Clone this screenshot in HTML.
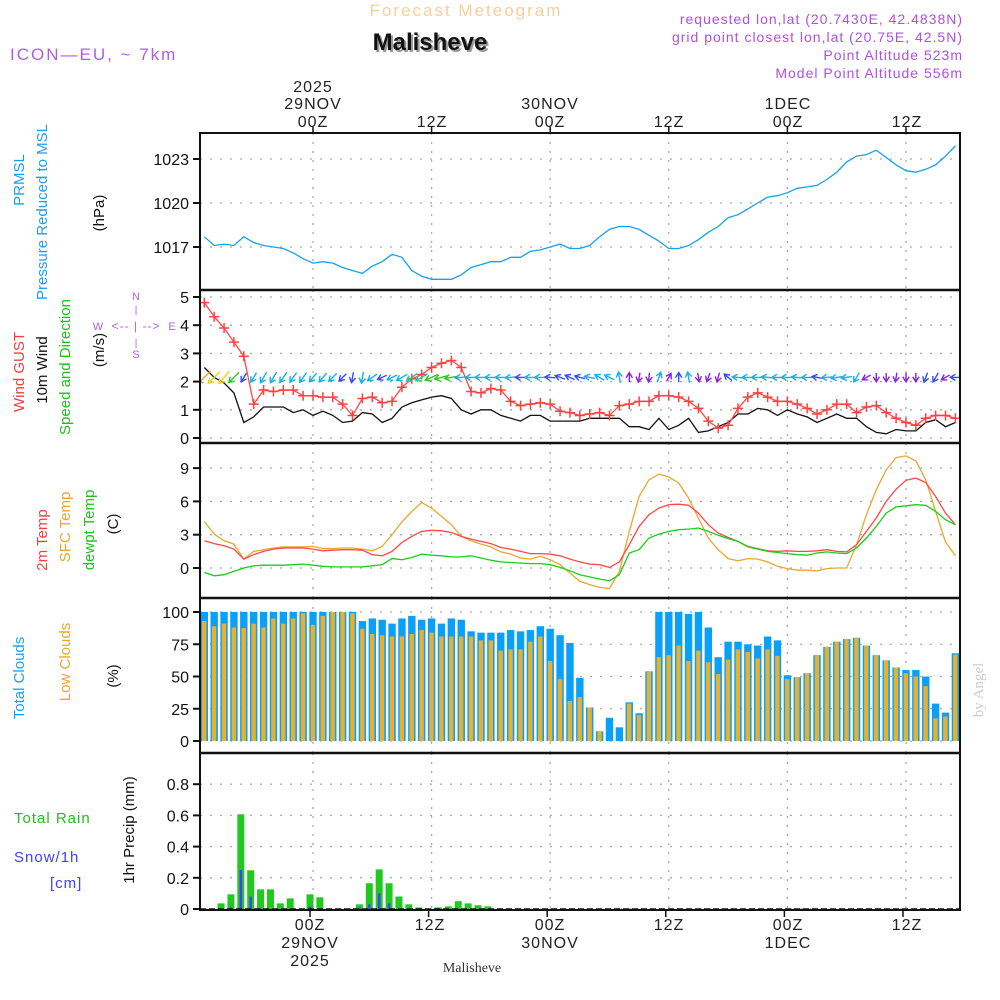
<!DOCTYPE html>
<html><head><meta charset="utf-8"><title>Meteogram Malisheve</title>
<style>
html,body{margin:0;padding:0;background:#fff;}
svg{display:block;font-family:"Liberation Sans",sans-serif;}
</style></head>
<body>
<svg id="chart" width="1000" height="1000" viewBox="0 0 1000 1000" xmlns="http://www.w3.org/2000/svg">
  <defs><clipPath id="plotclip"><rect x="200" y="133" width="760" height="777"/></clipPath></defs>
  <text x="466" y="16" text-anchor="middle" font-size="17" fill="#f7cf9a" letter-spacing="2">Forecast Meteogram</text>
  <text x="432" y="52" text-anchor="middle" font-size="24" font-weight="bold" fill="#999">Malisheve</text>
  <text x="430" y="50" text-anchor="middle" font-size="24" font-weight="bold" fill="#111">Malisheve</text>
  <text x="10" y="60" font-size="17" fill="#b05ee8" letter-spacing="2">ICON—EU, ~ 7km</text>
  <g font-size="14" fill="#b050e0" text-anchor="end" letter-spacing="1">
    <text x="963" y="24">requested lon,lat (20.7430E, 42.4838N)</text>
    <text x="963" y="42">grid point closest lon,lat (20.75E, 42.5N)</text>
    <text x="963" y="60">Point Altitude 523m</text>
    <text x="963" y="78">Model Point Altitude 556m</text>
  </g>
  <g font-size="16" fill="#222" text-anchor="middle" letter-spacing="1">
    <text x="313" y="92">2025</text><text x="313" y="109">29NOV</text><text x="313" y="127">00Z</text>
    <text x="432" y="127">12Z</text>
    <text x="550" y="109">30NOV</text><text x="550" y="127">00Z</text>
    <text x="669" y="127">12Z</text>
    <text x="788" y="109">1DEC</text><text x="788" y="127">00Z</text>
    <text x="907" y="127">12Z</text>
  </g>
  <g font-size="16" fill="#222" text-anchor="middle" letter-spacing="1">
    <text x="310" y="930">00Z</text><text x="310" y="948">29NOV</text><text x="310" y="966">2025</text>
    <text x="430" y="930">12Z</text>
    <text x="550" y="930">00Z</text><text x="550" y="948">30NOV</text>
    <text x="669" y="930">12Z</text>
    <text x="788" y="930">00Z</text><text x="788" y="948">1DEC</text>
    <text x="907" y="930">12Z</text>
  </g>
  <text x="472" y="972" text-anchor="middle" font-size="14" font-family="Liberation Serif, serif" fill="#333">Malisheve</text>
  <text x="0" y="0" transform="translate(983,690) rotate(-90)" text-anchor="middle" font-size="15" font-family="Liberation Serif, serif" fill="#ccc">by Angel</text>

  <g font-size="15" text-anchor="middle">
    <text transform="translate(24,180) rotate(-90)" fill="#1aa0f0">PRMSL</text>
    <text transform="translate(47,212) rotate(-90)" fill="#1aa0f0">Pressure Reduced to MSL</text>
    <text transform="translate(104,213) rotate(-90)" fill="#111">(hPa)</text>
    <text transform="translate(24,372) rotate(-90)" fill="#f04040">Wind GUST</text>
    <text transform="translate(47,370) rotate(-90)" fill="#111">10m Wind</text>
    <text transform="translate(70,367) rotate(-90)" fill="#20c020">Speed and Direction</text>
    <text transform="translate(104,350) rotate(-90)" fill="#111">(m/s)</text>
    <text transform="translate(47,540) rotate(-90)" fill="#f04040">2m Temp</text>
    <text transform="translate(70,527) rotate(-90)" fill="#e8a830">SFC Temp</text>
    <text transform="translate(94,530) rotate(-90)" fill="#20c020">dewpt Temp</text>
    <text transform="translate(118,524) rotate(-90)" fill="#111">(C)</text>
    <text transform="translate(24,678) rotate(-90)" fill="#1aa0f0">Total Clouds</text>
    <text transform="translate(70,662) rotate(-90)" fill="#e8a830">Low Clouds</text>
    <text transform="translate(118,676) rotate(-90)" fill="#111">(%)</text>
    <text transform="translate(134,830) rotate(-90)" fill="#111">1hr Precip (mm)</text>
  </g>
  <g font-size="15" letter-spacing="1">
    <text x="14" y="823" fill="#20c020">Total  Rain</text>
    <text x="14" y="862" fill="#4040ff">Snow/1h</text>
    <text x="50" y="888" fill="#4040ff">[cm]</text>
  </g>
  <g font-size="11" fill="#b060e8" text-anchor="middle">
    <text x="136" y="300">N</text><text x="136" y="358">S</text>
    <text x="98" y="330">W</text><text x="172" y="330">E</text>
    <text x="136" y="330" font-size="12" letter-spacing="1">&lt;-- | --&gt;</text>
    <text x="136" y="313" font-size="10">|</text><text x="136" y="346" font-size="10">|</text>
  </g>
  <g id="grid"></g>
  <g id="marks" clip-path="url(#plotclip)"></g>
  <g id="axes"></g>
</svg>
<script>
const hours = [];
for (let h = -11; h <= 65; h++) hours.push(h);
const pressure = [1017.7,1017.1,1017.2,1017.1,1017.7,1017.3,1017.1,1017.0,1016.9,1016.6,1016.2,1015.9,1016.0,1015.9,1015.6,1015.4,1015.2,1015.7,1016.0,1016.5,1016.3,1015.4,1015.0,1014.8,1014.8,1014.8,1015.1,1015.6,1015.8,1016.0,1016.0,1016.3,1016.3,1016.7,1016.8,1017.0,1017.2,1016.9,1016.9,1017.1,
1017.7,1018.2,1018.4,1018.4,1018.2,1017.8,1017.4,1016.9,1016.9,1017.1,1017.5,1018.0,1018.4,1019.0,1019.2,1019.6,1020.0,1020.4,1020.5,1020.7,1021.0,1021.1,1021.2,1021.6,1022.1,1022.8,1023.2,1023.3,1023.6,1023.1,1022.6,1022.2,1022.1,1022.3,1022.6,1023.2,1023.9];
const gust = [4.8,4.3,3.9,3.4,2.9,1.2,1.7,1.65,1.7,1.7,1.5,1.5,1.45,1.45,1.2,0.8,1.4,1.45,1.25,1.3,1.8,2.1,2.25,2.5,2.65,2.75,2.5,1.65,1.6,1.75,1.7,1.3,1.15,1.2,1.25,1.2,0.95,0.9,0.8,0.85,
0.9,0.8,1.15,1.2,1.3,1.3,1.5,1.5,1.45,1.3,1.05,0.6,0.35,0.45,1.05,1.45,1.6,1.45,1.3,1.3,1.2,1.05,0.85,1.0,1.2,1.2,0.9,1.1,1.15,0.9,0.7,0.55,0.45,0.7,0.8,0.8,0.7];
const windSpeed = [2.5,2.15,1.95,1.6,0.55,0.75,1.1,1.1,1.1,0.9,1.0,0.8,0.95,0.8,0.55,0.6,0.9,0.85,0.55,0.7,1.1,1.25,1.35,1.45,1.5,1.4,1.0,0.85,1.0,1.0,0.8,0.7,0.6,0.8,0.8,0.6,0.6,0.6,0.6,0.7,
0.7,0.7,0.7,0.4,0.4,0.3,0.7,0.3,0.45,0.7,0.2,0.25,0.4,0.55,0.85,0.85,1.05,1.0,0.8,1.0,0.85,0.75,0.55,0.7,0.85,0.7,0.7,0.4,0.2,0.15,0.3,0.25,0.25,0.55,0.65,0.4,0.55];
const windDir = [45,45,40,45,30,30,30,30,35,35,35,40,40,45,45,10,10,55,65,65,60,55,60,65,75,80,85,90,90,90,90,85,90,90,90,95,110,115,105,100,
120,115,170,180,10,5,200,210,180,170,350,20,15,130,95,90,90,95,90,90,95,90,100,85,80,80,30,60,0,0,10,0,0,20,30,60,90];
const temp2m = [2.46,2.2,2.0,1.7,0.8,1.2,1.5,1.7,1.8,1.8,1.8,1.7,1.55,1.6,1.65,1.65,1.6,1.2,1.1,1.5,2.3,2.85,3.3,3.4,3.35,3.2,2.85,2.6,2.4,2.2,1.85,1.7,1.5,1.3,1.3,1.25,1.1,0.8,0.55,0.35,
0.3,0.05,0.55,2.1,3.75,4.8,5.4,5.7,5.75,5.65,4.95,3.9,3.15,2.75,2.4,1.95,1.75,1.55,1.5,1.55,1.5,1.5,1.55,1.65,1.5,1.45,2.1,3.3,4.5,6.0,7.1,7.9,8.1,7.7,6.45,4.95,3.9];
const tempSfc = [4.2,3.05,2.45,2.15,0.8,1.5,1.65,1.8,1.9,1.9,1.9,1.95,1.75,1.75,1.8,1.8,1.7,1.55,1.95,3.0,4.15,5.1,5.9,5.4,4.65,3.9,2.85,2.45,2.15,1.9,1.45,1.25,0.9,0.8,1.05,0.75,0.3,-0.45,-1.2,-1.5,
-1.75,-1.85,-0.3,3.3,6.45,7.95,8.45,8.2,7.65,6.3,4.5,2.7,1.65,0.85,0.65,0.85,0.8,0.55,0.15,-0.05,-0.2,-0.2,-0.25,-0.05,0,0,2.1,4.8,7.05,8.85,9.95,10.1,9.65,7.95,5.1,2.35,1.1];
const dewpt = [-0.4,-0.7,-0.6,-0.3,0,0.2,0.25,0.25,0.25,0.3,0.35,0.25,0.15,0.1,0.1,0.1,0.1,0.2,0.3,0.85,0.75,0.95,1.25,1.15,1.1,1.0,1.0,1.1,0.9,0.7,0.55,0.5,0.45,0.4,0.4,0.3,0.05,-0.25,-0.6,-0.8,
-1.0,-1.15,-0.6,1.35,1.65,2.7,3.05,3.3,3.45,3.5,3.6,3.3,2.95,2.65,2.4,1.9,1.7,1.5,1.4,1.3,1.2,1.15,1.35,1.45,1.35,1.3,1.8,2.7,3.75,4.95,5.5,5.6,5.7,5.65,5.1,4.35,3.9];
const totalClouds = [100,100,100,100,100,100,100,100,100,100,100,100,100,100,100,100,93,95,94,91,95,97,94,95,91,95,94,85,84,84,84,86,85,86,89,87,82,76,49,26,
7.5,18,10.6,30,21.5,54,100,100,100,98.5,100,88,65,77,77,75,74,81,78,51,49.5,52.5,66.5,73,77,79,80,74,66.5,62.5,57,55,55,50,29,22,68];
const lowClouds = [93,89,91,88,87.5,91,88,95,91,95,99,90,97,100,100,99,87,83,82,81,81,83,86,84,81,81,81,81,78,78,70,71,71,77,81,62,48,31,34,26,
7.5,0,0,29,20,54,65,66.5,74,62,70,61,52,63,71,69,64,71,66,48,49.5,52.5,66.5,73,77,79,80,74,66.5,62.5,57,52.5,50,42.5,17.5,19,67];
const rain = [0,0,0.036,0.094,0.607,0.248,0.126,0.126,0.036,0.068,0,0.094,0.075,0,0,0,0.03,0.165,0.254,0.165,0.08,0.03,0.01,0,0.01,0.017,0.05,0.036,0.024,0.017,
0,0,0,0,0,0,0,0,0,0,0,0,0,0,0,0,0,0,0,0,0,0,0,0,0,0,0,0,0,0,0,0,0,0,0,0,0,0,0,0,0,0,0,0,0,0,0];
const snow = [0,0,0,0.01,0.25,0.08,0.005,0,0,0,0,0.017,0.005,0,0,0,0.01,0.03,0.1,0.036,0,0,0,0,0,0,0,0,0,0,
0,0,0,0,0,0,0,0,0,0,0,0,0,0,0,0,0,0,0,0,0,0,0,0,0,0,0,0,0,0,0,0,0,0,0,0,0,0,0,0,0,0,0,0,0,0,0];
const presTicks = [1017,1020,1023];
const windTicks = [0,1,2,3,4,5];
const tempTicks = [0,3,6,9];
const cloudTicks = [0,25,50,75,100];
const precipTicks = [0,0.2,0.4,0.6,0.8];
const precipTickLabels = ['0','0.2','0.4','0.6','0.8'];
const timeGridHours = [0,12,24,36,48,60];

const NS = 'http://www.w3.org/2000/svg';
const X0 = 200, X1 = 960;
const xH = h => 313 + 9.883 * h;
const yP = p => 247 - (p - 1017) * 14.667;
const yW = v => 438 - v * 28.2;
const yT = t => 568 - t * 11.1;
const yC = c => 741 - c * 1.29;
const yR = r => 909 - r * 156;
const panels = [[133,290],[290,443],[443,598],[598,753],[753,910]];

function mk(tag, attrs, parent) {
  const el = document.createElementNS(NS, tag);
  for (const k in attrs) el.setAttribute(k, attrs[k]);
  parent.appendChild(el);
  return el;
}
const grid = document.getElementById('grid');
const marks = document.getElementById('marks');
const axes = document.getElementById('axes');

function hgrid(ticks, yf, labels, tag) {
  ticks.forEach((t, i) => {
    const y = yf(t);
    const g = mk('line', {x1: X0, x2: X1, y1: y, y2: y, stroke: '#aaa', 'stroke-width': 1.3, 'stroke-dasharray': '2,8'}, grid);
    
    
    const tk = mk('line', {x1: 193, x2: X0, y1: y, y2: y, stroke: '#111', 'stroke-width': 2}, axes);
    
    
    const tx = mk('text', {x: 189, y: y + 6, 'text-anchor': 'end', 'font-size': 16, fill: '#111'}, axes);
    tx.textContent = labels ? labels[i] : String(t);
    
    
  });
}
hgrid(presTicks, yP, null, 'pressure');
hgrid(windTicks, yW, null, 'wind');
hgrid(tempTicks, yT, null, 'temp');
hgrid(cloudTicks, yC, null, 'cloud');
hgrid(precipTicks, yR, precipTickLabels, 'precip');

panels.forEach(p => {
  timeGridHours.forEach(h => {
    const x = xH(h);
    const v = mk('line', {x1: x, x2: x, y1: p[0], y2: p[1], stroke: '#aaa', 'stroke-width': 1.3, 'stroke-dasharray': '2,7'}, grid);
    
    
  });
});
timeGridHours.forEach(h => {
  const x = xH(h);
  const a = mk('line', {x1: x, x2: x, y1: 127, y2: 133, stroke: '#111', 'stroke-width': 1.5}, axes);
  
  
  const b = mk('line', {x1: x - 3, x2: x - 3, y1: 910, y2: 917, stroke: '#111', 'stroke-width': 1.5}, axes);
  
  
});

// Cloud bars
hours.forEach((h, i) => {
  const x = xH(h);
  const b = mk('rect', {x: x - 3.7, y: yC(totalClouds[i]), width: 7.4, height: yC(0) - yC(totalClouds[i]), fill: '#0aa0f8'}, marks);
  
  
  if (lowClouds[i] > 0) {
    const o = mk('rect', {x: x - 2.3, y: yC(lowClouds[i]), width: 4.4, height: yC(0) - yC(lowClouds[i]), fill: '#e8b030'}, marks);
    
    
  }
});
// Precip bars
hours.forEach((h, i) => {
  const x = xH(h) - 3;
  if (rain[i] > 0) {
    const b = mk('rect', {x: x - 3.5, y: yR(rain[i]), width: 7, height: yR(0) - yR(rain[i]), fill: '#20c820'}, marks);
    
    
  }
  if (snow[i] > 0) {
    const s = mk('rect', {x: x - 1.2, y: yR(snow[i]), width: 2.4, height: yR(0) - yR(snow[i]), fill: '#4040ff'}, marks);
    
    
  }
});
const zl = mk('line', {x1: X0, x2: X1, y1: yR(0), y2: yR(0), stroke: '#111', 'stroke-width': 1.5, 'stroke-dasharray': '6,3'}, marks);



function polyline(vals, yf, color, name, w) {
  const pts = hours.map((h, i) => xH(h).toFixed(1) + ',' + yf(vals[i]).toFixed(1)).join(' ');
  const pl = mk('polyline', {points: pts, fill: 'none', stroke: color, 'stroke-width': w || 1.3}, marks);
  
  
}
polyline(pressure, yP, '#18a0f0', 'pressure-line');
polyline(windSpeed, yW, '#111', 'wind-speed-line');
polyline(gust, yW, '#ff4848', 'wind-gust-line');
hours.forEach((h, i) => {
  const x = xH(h), y = yW(gust[i]);
  const m = mk('path', {d: `M${x-5},${y}h10M${x},${y-5}v10`, stroke: '#ff4040', 'stroke-width': 1.5}, marks);
  
  
});
polyline(tempSfc, yT, '#e8a830', 'sfc-temp-line');
polyline(temp2m, yT, '#ff4848', 'temp-2m-line');
polyline(dewpt, yT, '#18d018', 'dewpt-line');

function windColor(s) {
  if (s >= 2.3) return '#f0a030';
  if (s >= 1.9) return '#e8d020';
  if (s >= 1.4) return '#30c820';
  if (s >= 1.2) return '#20c8a0';
  if (s >= 0.7) return '#18b0e8';
  if (s >= 0.45) return '#3050f0';
  return '#8a20e0';
}
hours.forEach((h, i) => {
  const s = windSpeed[i], d = windDir[i] * Math.PI / 180;
  const len = Math.min(19, 8 + 4 * s);
  const dx = -Math.sin(d), dy = Math.cos(d);
  const cx = xH(h), cy = yW(2.15);
  const x1 = cx - dx * len / 2, y1 = cy - dy * len / 2;
  const x2 = cx + dx * len / 2, y2 = cy + dy * len / 2;
  const hl = 6, a = Math.atan2(dy, dx);
  const h1x = x2 - hl * Math.cos(a - 0.55), h1y = y2 - hl * Math.sin(a - 0.55);
  const h2x = x2 - hl * Math.cos(a + 0.55), h2y = y2 - hl * Math.sin(a + 0.55);
  const ar = mk('path', {d: `M${x1.toFixed(1)},${y1.toFixed(1)}L${x2.toFixed(1)},${y2.toFixed(1)}M${h1x.toFixed(1)},${h1y.toFixed(1)}L${x2.toFixed(1)},${y2.toFixed(1)}L${h2x.toFixed(1)},${h2y.toFixed(1)}`, stroke: windColor(s), 'stroke-width': 1.4, fill: 'none'}, marks);
  
  
});

// Frame
const fr = mk('rect', {x: X0, y: 133, width: X1 - X0, height: 777, fill: 'none', stroke: '#111', 'stroke-width': 2}, axes);


[290, 443, 598, 753].forEach(y => {
  const s = mk('line', {x1: X0, x2: X1, y1: y, y2: y, stroke: '#111', 'stroke-width': 2.5}, axes);
  
  
});
</script>
</body></html>
